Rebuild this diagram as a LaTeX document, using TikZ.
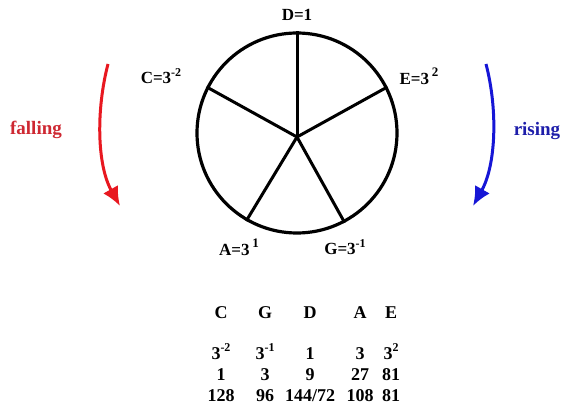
\documentclass[tikz,border=0pt]{standalone}
\usepackage{fontspec}
\setmainfont{Liberation Serif}
\usetikzlibrary{arrows.meta}
\definecolor{fallred}{RGB}{232,24,32}
\definecolor{risblue}{RGB}{22,22,214}
\definecolor{fallword}{RGB}{206,40,50}
\definecolor{risword}{RGB}{30,30,170}
\newcommand{\pw}[2]{#1\raisebox{0.9ex}{\fontsize{12}{12}\selectfont #2}}
\newcommand{\pwgap}[2]{#1\,\raisebox{1.05ex}{\fontsize{13}{13}\selectfont #2}}

\begin{document}
\begin{tikzpicture}[
  x=1pt, y=-1pt,
  note/.style={font=\fontsize{17}{17}\selectfont\bfseries, inner sep=0pt},
  cell/.style={font=\fontsize{18}{18}\selectfont\bfseries, inner sep=0pt, anchor=base},
  spoke/.style={line width=3pt},
  turn/.style={line width=3pt, -{Latex[length=19pt,width=17pt]}}
]
\useasboundingbox (0,0) rectangle (562,406);

% the wheel
\node[circle, draw, line width=3.2pt, minimum size=200pt, inner sep=0pt] (wheel) at (297,133) {};
\coordinate (hub) at (297,137);
\foreach \a in {90,27,153,240,298}
  \draw[spoke] (hub) -- (wheel.\a);

\node[note] (d) at (297,15) {D=1};
\node[note] (c) at (161,76) {C=\pw{3}{-2}};
\node[note] (e) at (419,76) {E=\pwgap{3}{2}};
\node[note] (a) at (239,247) {A=\pwgap{3}{1}};
\node[note] (g) at (345,247) {G=\pw{3}{-1}};

% directions
\node[note, text=fallword, font=\fontsize{19}{19}\selectfont\bfseries] (fall) at (36,130) {falling};
\node[note, text=risword, font=\fontsize{19}{19}\selectfont\bfseries] (rise) at (537,131) {rising};
\coordinate (fs) at (108,64);
\coordinate (fe) at (120,206);
\coordinate (rs) at (486,64);
\coordinate (re) at (473,206);
\draw[turn, draw=fallred] (fs) .. controls (96,110) and (97,165) .. (fe);
\draw[turn, draw=risblue] (rs) .. controls (498,110) and (496,165) .. (re);

% table
\foreach \x/\n/\p/\o/\t in {221/C/\pw{3}{-2}/1/128, 265/G/\pw{3}{-1}/3/96, 310/D/1/9/144\slash72, 360/A/3/27/108, 391/E/\pw{3}{2}/81/81}{
  \node[cell] (h\n) at (\x,318) {\n};
  \node[cell] (p\n) at (\x,359) {\p};
  \node[cell] (o\n) at (\x,380) {\o};
  \node[cell] (t\n) at (\x,401) {\t};
}
\end{tikzpicture}
\end{document}
